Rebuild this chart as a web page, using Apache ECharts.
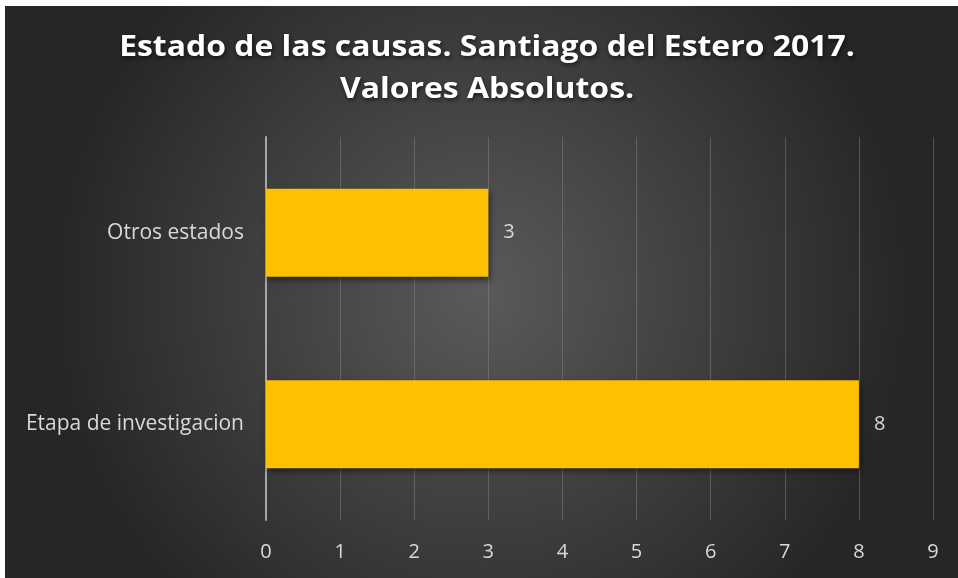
<!DOCTYPE html>
<html>
<head>
<meta charset="utf-8">
<script src="https://cdn.jsdelivr.net/npm/echarts@6/dist/echarts.min.js"></script>
<style>
  html, body { margin: 0; padding: 0; background: #ffffff; }
  #chart { position: absolute; left: 5px; top: 6px; width: 953px; height: 572px; }
</style>
</head>
<body>
<div id="chart"></div>
<script>
// datos del grafico
var categorias = ['Etapa de investigacion', 'Otros estados'];
var valores = [8, 3];
var tituloLinea1 = 'Estado de las causas. Santiago del Estero 2017.';
var tituloLinea2 = 'Valores Absolutos.';

var estiloTitulo = function (txt) {
  return {
    text: txt,
    align: 'center',
    verticalAlign: 'middle',
    fill: '#ffffff',
    fontFamily: 'Open Sans',
    fontWeight: 'bold',
    fontSize: 28,
    textShadowColor: 'rgba(0,0,0,0.6)',
    textShadowBlur: 4,
    textShadowOffsetX: 1,
    textShadowOffsetY: 2
  };
};

var chart = echarts.init(document.getElementById('chart'));
var options = {
  animation: false,
  backgroundColor: {
    type: 'radial', x: 0.5, y: 0.5, r: 0.75,
    colorStops: [
      { offset: 0, color: '#5a5a5a' },
      { offset: 1, color: '#262626' }
    ]
  },
  graphic: [
    { type: 'text', x: 482, y: 42, scaleX: 1.14, style: estiloTitulo(tituloLinea1) },
    { type: 'text', x: 482, y: 84, scaleX: 1.14, style: estiloTitulo(tituloLinea2) }
  ],
  grid: { left: 261, right: 25, top: 131, bottom: 58 },
  xAxis: {
    type: 'value',
    min: 0,
    max: 9,
    interval: 1,
    axisLine: { show: false },
    axisTick: { show: false },
    axisLabel: { color: '#d9d9d9', fontFamily: 'Open Sans', fontSize: 20, margin: 22 },
    splitLine: { lineStyle: { color: 'rgba(140,140,140,0.45)', width: 1 } }
  },
  yAxis: {
    type: 'category',
    data: categorias,
    axisLine: { show: true, lineStyle: { color: '#a6a6a6', width: 2 } },
    axisTick: { show: false },
    axisLabel: { color: '#d9d9d9', fontFamily: 'Open Sans', fontSize: 21, margin: 22 }
  },
  series: [{
    type: 'bar',
    data: valores,
    barWidth: 88,
    itemStyle: {
      color: '#ffc000',
      shadowColor: 'rgba(0,0,0,0.5)',
      shadowBlur: 6,
      shadowOffsetX: 2,
      shadowOffsetY: 3
    },
    label: {
      show: true,
      position: 'right',
      distance: 15,
      color: '#d9d9d9',
      fontFamily: 'Open Sans',
      fontSize: 20
    }
  }]
};
chart.setOption(options);
</script>
</body>
</html>
